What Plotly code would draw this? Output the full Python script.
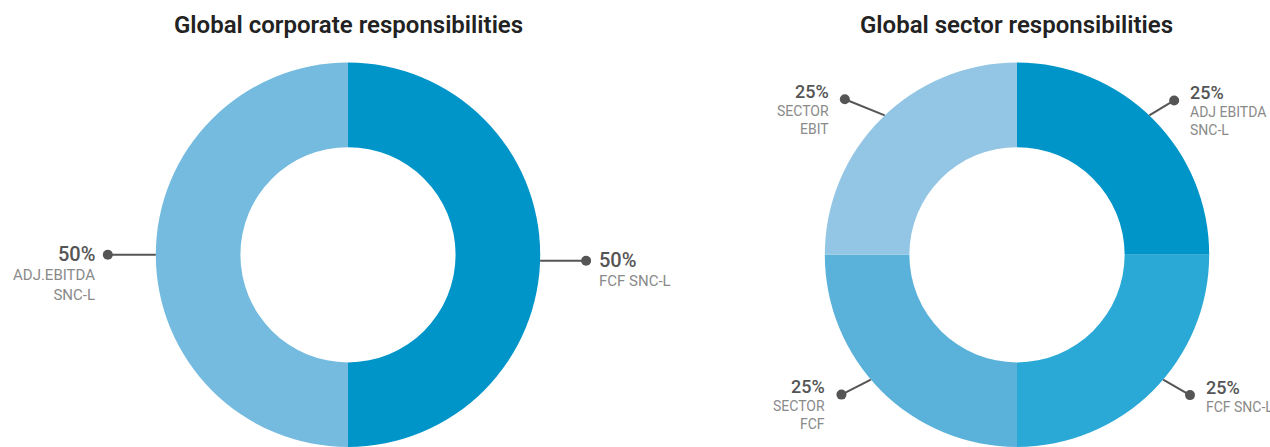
import math
import plotly.graph_objects as go

W, H = 1270, 447

# ---- data ----
corp_title = "Global corporate responsibilities"
corp_labels = ["FCF SNC-L", "ADJ.EBITDA<br>SNC-L"]
corp_values = [50, 50]

sector_title = "Global sector responsibilities"
sector_labels = ["ADJ EBITDA<br>SNC-L", "FCF SNC-L", "SECTOR<br>FCF", "SECTOR<br>EBIT"]
sector_values = [25, 25, 25, 25]

corp_colors = ["#0095C8", "#74BBDF"]
sector_colors = ["#0095C8", "#2BA9D6", "#5AB2DB", "#93C6E5"]

# ---- layout / style ----
R = 192.2          # outer radius in px
HOLE = 0.56
CY = H - R         # centre y (px from top)

charts = [
    dict(title=corp_title, labels=corp_labels, values=corp_values, colors=corp_colors,
         cx=348, ang_shift=[1.8, 0], lead_len=[46, 48], lead_ang=[0, 0], gap=11,
         pct_size=20, sub_size=15, pct_dy=-1, sub_dy=9),
    dict(title=sector_title, labels=sector_labels, values=sector_values, colors=sector_colors,
         cx=1017, ang_shift=[-1.5, -4.5, 4.5, 1.5], lead_len=[29, 31, 33, 43],
         lead_ang=[31, 30, 27, 22], gap=14,
         pct_size=18, sub_size=14, pct_dy=-8, sub_dy=1.5),
]


def px2x(px):
    return px / W


def px2y(py):
    return 1 - py / H


fig = go.Figure()
shapes = []
annotations = []
FONT = "Roboto"

for ch in charts:
    cx = ch["cx"]
    fig.add_trace(go.Pie(
        labels=[l.replace("<br>", " ") for l in ch["labels"]],
        values=ch["values"],
        marker=dict(colors=ch["colors"], line=dict(width=0)),
        hole=HOLE, sort=False, direction="clockwise", rotation=0,
        textinfo="none", hoverinfo="label+percent", showlegend=False,
        domain=dict(x=[px2x(cx - R), px2x(cx + R)], y=[0, 2 * R / H]),
    ))
    annotations.append(dict(
        x=px2x(cx), y=px2y(25), xref="paper", yref="paper", text=ch["title"],
        showarrow=False, xanchor="center", yanchor="middle",
        font=dict(family=FONT, size=24, color="#222222", weight=600),
    ))
    total = sum(ch["values"])
    cum = 0
    for i, (lab, v) in enumerate(zip(ch["labels"], ch["values"])):
        mid = (cum + v / 2) / total * 2 * math.pi + math.radians(ch["ang_shift"][i])
        cum += v
        sx, sy = math.sin(mid), -math.cos(mid)
        ex, ey = cx + R * sx, CY + R * sy
        hs = 1 if sx > 0.01 else -1
        vs = 0 if abs(sy) < 0.1 else (1 if sy > 0 else -1)
        la = math.radians(ch["lead_ang"][i])
        L = ch["lead_len"][i]
        dx = ex + hs * L * math.cos(la)
        dy = ey + vs * L * math.sin(la)
        shapes.append(dict(type="line", xref="paper", yref="paper",
                           x0=px2x(ex), y0=px2y(ey), x1=px2x(dx), y1=px2y(dy),
                           line=dict(color="#555555", width=2)))
        shapes.append(dict(type="circle", xref="paper", yref="paper",
                           x0=px2x(dx - 5), x1=px2x(dx + 5), y0=px2y(dy - 5), y1=px2y(dy + 5),
                           fillcolor="#555555", line=dict(width=0)))
        right = hs > 0
        tx = dx + ch["gap"] if right else dx - ch["gap"]
        anchor = "left" if right else "right"
        annotations.append(dict(
            x=px2x(tx), y=px2y(dy + ch["pct_dy"]), xref="paper", yref="paper",
            text=f"{v / total * 100:.0f}%", showarrow=False,
            xanchor=anchor, yanchor="middle", align=anchor,
            font=dict(family=FONT, size=ch["pct_size"], color="#555555", weight=500),
        ))
        annotations.append(dict(
            x=px2x(tx), y=px2y(dy + ch["sub_dy"]), xref="paper", yref="paper",
            text=lab, showarrow=False,
            xanchor=anchor, yanchor="top", align=anchor,
            font=dict(family=FONT, size=ch["sub_size"], color="#8a8a8a"),
        ))

fig.update_layout(
    width=W, height=H, margin=dict(l=0, r=0, t=0, b=0),
    paper_bgcolor="white", plot_bgcolor="white",
    shapes=shapes, annotations=annotations,
)

fig.write_html("out.html", config={"displayModeBar": False},
               post_script="document.body.style.margin='0';document.body.style.overflow='hidden';")
